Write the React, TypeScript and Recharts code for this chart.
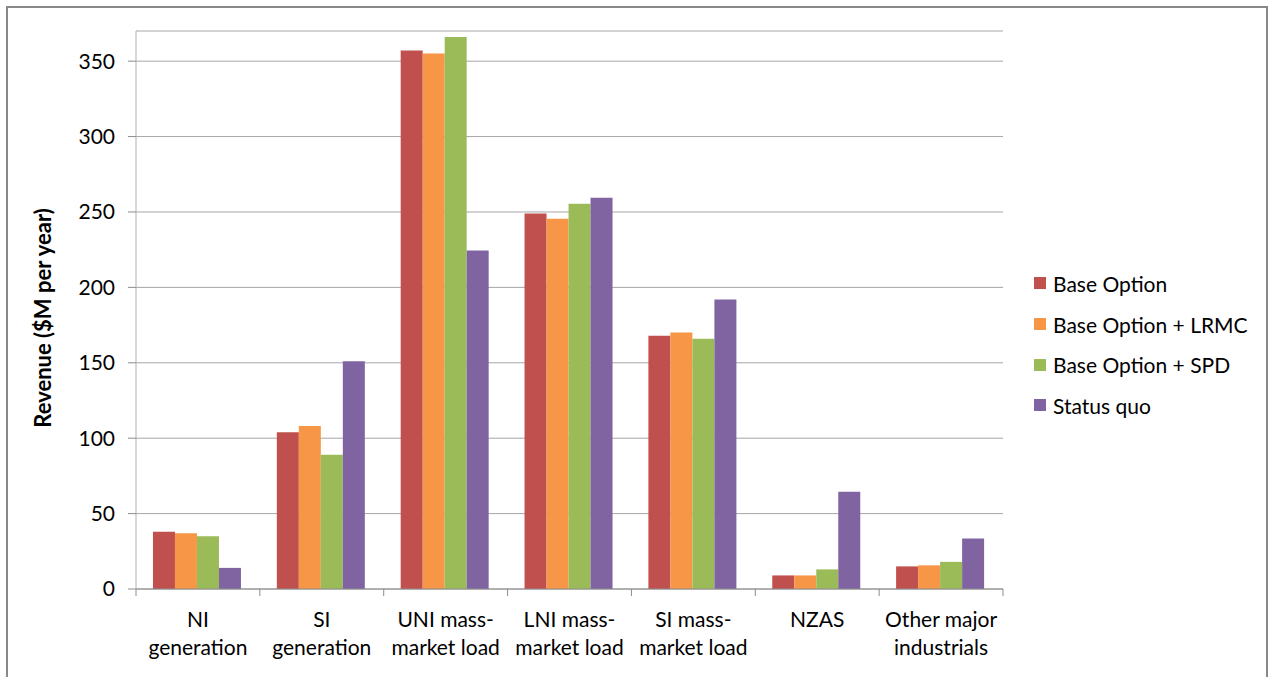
import React from 'react';
import { BarChart, Bar, XAxis, YAxis, CartesianGrid } from 'recharts';

const categories = [
  'NI generation',
  'SI generation',
  'UNI mass-market load',
  'LNI mass-market load',
  'SI mass-market load',
  'NZAS',
  'Other major industrials',
];

// tick labels, broken over two lines the way they are printed
const tickLines: Record<string, string[]> = {
  'NI generation': ['NI', 'generation'],
  'SI generation': ['SI', 'generation'],
  'UNI mass-market load': ['UNI mass-', 'market load'],
  'LNI mass-market load': ['LNI mass-', 'market load'],
  'SI mass-market load': ['SI mass-', 'market load'],
  NZAS: ['NZAS'],
  'Other major industrials': ['Other major', 'industrials'],
};

const baseOption = [38, 104, 357, 249, 168, 9, 15];
const baseLrmc = [37, 108, 355, 245.5, 170, 9, 15.7];
const baseSpd = [35, 89, 366, 255.5, 166, 13, 18];
const statusQuo = [14, 151, 224.5, 259.5, 192, 64.5, 33.5];

const yTicks = [0, 50, 100, 150, 200, 250, 300, 350];

const seriesDefs = [
  { key: 'base', name: 'Base Option', color: '#C0504D' },
  { key: 'lrmc', name: 'Base Option + LRMC', color: '#F79646' },
  { key: 'spd', name: 'Base Option + SPD', color: '#9BBB59' },
  { key: 'sq', name: 'Status quo', color: '#8064A2' },
];

const data = categories.map((c, i) => ({
  category: c,
  base: baseOption[i],
  lrmc: baseLrmc[i],
  spd: baseSpd[i],
  sq: statusQuo[i],
}));

const FONT = 'Lato, "Noto Sans", sans-serif';
const FS = 21;

const CHART_W = 1258;
const CHART_H = 680;
const MARGIN = { top: 23, right: 263, left: 0, bottom: 0 };
const Y_AXIS_W = 128;
const PLOT_W = CHART_W - MARGIN.left - MARGIN.right - Y_AXIS_W;
const BAND = PLOT_W / categories.length;

// category label plus the small divider ticks between categories
const CategoryTick = (props: any) => {
  const { x, y, payload, index } = props;
  const lines = tickLines[payload.value] || [payload.value];
  const last = index === categories.length - 1;
  return (
    <g>
      <line x1={x - BAND / 2} x2={x - BAND / 2} y1={y - 8} y2={y - 1} stroke="#8C8C8C" />
      {last && <line x1={x + BAND / 2} x2={x + BAND / 2} y1={y - 8} y2={y - 1} stroke="#8C8C8C" />}
      <text x={x} y={y} textAnchor="middle" fill="#000" fontFamily={FONT} fontSize={FS}>
        {lines.map((l, i) => (
          <tspan key={i} x={x} y={y + 30 + i * 28}>
            {l}
          </tspan>
        ))}
      </text>
    </g>
  );
};

const YTitle = (props: any) => {
  const { viewBox } = props;
  const cx = viewBox.x + 34;
  const cy = viewBox.y + viewBox.height / 2 + 8;
  return (
    <text
      x={cx}
      y={cy}
      transform={`rotate(-90, ${cx}, ${cy})`}
      textAnchor="middle"
      dominantBaseline="central"
      fontFamily={FONT}
      fontSize={22}
      fontWeight={700}
      fill="#000"
    >
      Revenue ($M per year)
    </text>
  );
};

// legend sits to the right of the plot, outside the chart's own layout
const LegendBox = () => (
  <div
    style={{
      position: 'absolute',
      left: 1026,
      top: 255,
      fontFamily: FONT,
      fontSize: FS,
      color: '#000',
    }}
  >
    {seriesDefs.map((s) => (
      <div key={s.key} style={{ display: 'flex', alignItems: 'center', height: 40.7 }}>
        <span
          style={{ width: 12, height: 12, background: s.color, display: 'inline-block', marginRight: 7 }}
        />
        <span>{s.name}</span>
      </div>
    ))}
  </div>
);

export default function App() {
  return (
    <div
      style={{
        position: 'absolute',
        left: 6,
        top: 6,
        width: CHART_W,
        height: 690,
        border: '2px solid #888888',
        background: '#fff',
      }}
    >
      <BarChart
        width={CHART_W}
        height={CHART_H}
        data={data}
        margin={MARGIN}
        barCategoryGap="13.7%"
        barGap={0}
      >
        <CartesianGrid vertical={false} stroke="#A6A6A6" strokeWidth={1} />
        <XAxis
          dataKey="category"
          height={99}
          interval={0}
          tick={<CategoryTick />}
          tickLine={false}
          axisLine={{ stroke: '#8C8C8C' }}
        />
        <YAxis
          width={Y_AXIS_W}
          domain={[0, 370]}
          ticks={yTicks}
          allowDataOverflow
          tickSize={8}
          tickMargin={13}
          tickLine={{ stroke: '#8C8C8C' }}
          axisLine={{ stroke: '#B0B0B0' }}
          tick={{ fill: '#000', fontFamily: FONT, fontSize: FS }}
          label={<YTitle />}
        />
        {seriesDefs.map((s) => (
          <Bar key={s.key} dataKey={s.key} name={s.name} fill={s.color} isAnimationActive={false} />
        ))}
      </BarChart>
      <LegendBox />
    </div>
  );
}
